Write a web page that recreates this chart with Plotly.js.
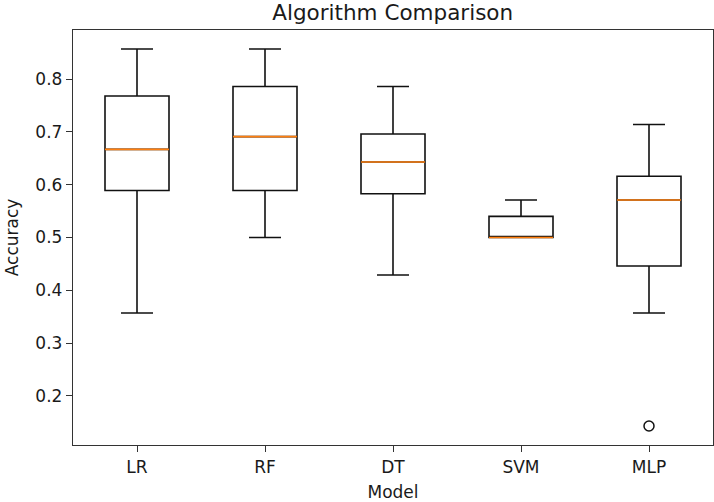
<!DOCTYPE html>
<html>
<head>
<meta charset="utf-8">
<script src="https://cdn.plot.ly/plotly-3.0.1.min.js"></script>
<style>html,body{margin:0;padding:0;background:#fff;}#chart{width:714px;height:502px;}</style>
</head>
<body>
<div id="chart"></div>
<script>
const categories = ['LR', 'RF', 'DT', 'SVM', 'MLP'];
const q1Values = [0.589, 0.589, 0.583, 0.500, 0.446];
const medianValues = [0.667, 0.691, 0.643, 0.500, 0.571];
const q3Values = [0.768, 0.786, 0.696, 0.540, 0.616];
const lowerWhisker = [0.357, 0.500, 0.429, 0.500, 0.357];
const upperWhisker = [0.857, 0.857, 0.786, 0.571, 0.714];
const outlierCategory = ['MLP'];
const outlierValues = [0.143];
const yTickValues = [0.2, 0.3, 0.4, 0.5, 0.6, 0.7, 0.8];

const positions = categories.map((c, i) => i);
const halfWidth = 0.25;
const medX = [], medY = [];
positions.forEach((p, i) => {
  medX.push(p - halfWidth, p + halfWidth, null);
  medY.push(medianValues[i], medianValues[i], null);
});
const outX = outlierCategory.map(c => categories.indexOf(c));

const font = {family: 'DejaVu Sans, sans-serif', color: '#1a1a1a'};

const data = [
  {
    type: 'box',
    x: positions,
    q1: q1Values,
    median: medianValues,
    q3: q3Values,
    lowerfence: lowerWhisker,
    upperfence: upperWhisker,
    width: 0.5,
    whiskerwidth: 0.5,
    fillcolor: 'rgba(0,0,0,0)',
    line: {color: '#111', width: 1.6},
    boxpoints: false,
    showlegend: false,
    hoverinfo: 'skip'
  },
  {
    type: 'scatter',
    mode: 'lines',
    x: medX,
    y: medY,
    line: {color: '#ff7f0e', width: 1.6},
    showlegend: false,
    hoverinfo: 'skip'
  },
  {
    type: 'scatter',
    mode: 'markers',
    x: outX,
    y: outlierValues,
    marker: {symbol: 'circle-open', size: 10, color: '#111', line: {width: 1.5, color: '#111'}},
    showlegend: false,
    hoverinfo: 'skip'
  }
];

const layout = {
  width: 714,
  height: 502,
  margin: {l: 73, r: 1, t: 30, b: 57},
  paper_bgcolor: '#fff',
  plot_bgcolor: '#fff',
  font: Object.assign({size: 17}, font),
  title: {text: 'Algorithm Comparison', font: Object.assign({size: 21.5}, font), x: 0.55, xanchor: 'center', y: 0.99, yanchor: 'top'},
  xaxis: {
    range: [-0.5, 4.5],
    tickmode: 'array',
    tickvals: positions,
    ticktext: categories,
    ticks: 'outside',
    ticklen: 6,
    tickwidth: 1,
    tickcolor: '#333',
    showgrid: false,
    zeroline: false,
    showline: true,
    mirror: true,
    linecolor: '#333',
    linewidth: 1.2,
    tickfont: Object.assign({size: 17}, font),
    title: {text: 'Model', font: Object.assign({size: 17}, font), standoff: 10}
  },
  yaxis: {
    range: [0.107, 0.893],
    tickmode: 'array',
    tickvals: yTickValues,
    ticktext: yTickValues.map(v => v.toFixed(1)),
    ticks: 'outside',
    ticklen: 6,
    tickwidth: 1,
    tickcolor: '#333',
    showgrid: false,
    zeroline: false,
    showline: true,
    mirror: true,
    linecolor: '#333',
    linewidth: 1.2,
    tickfont: Object.assign({size: 17}, font),
    title: {text: 'Accuracy', font: Object.assign({size: 17}, font), standoff: 12}
  },
  hovermode: false
};

Plotly.newPlot('chart', data, layout, {displayModeBar: false, staticPlot: true});
</script>
</body>
</html>
